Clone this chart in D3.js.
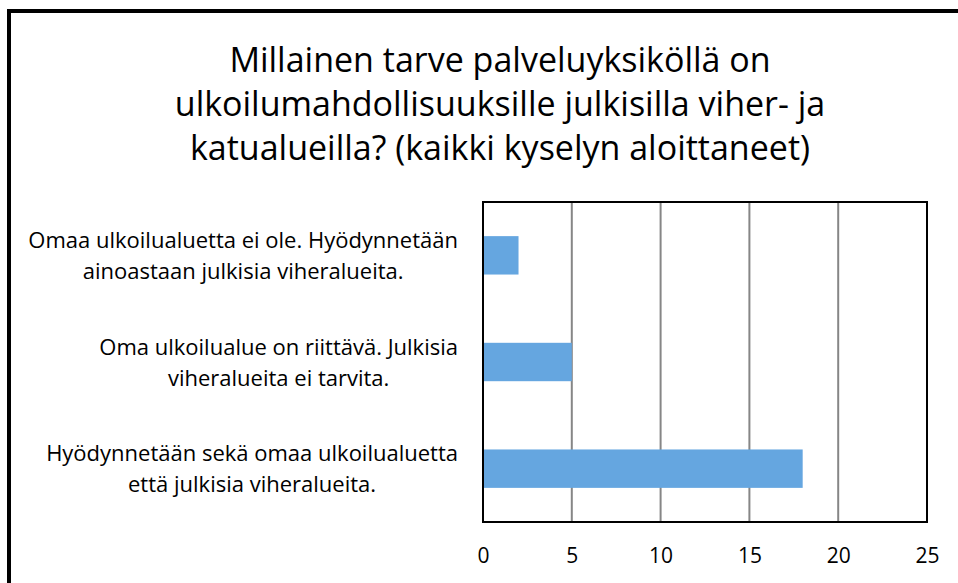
<!DOCTYPE html>
<html>
<head>
<meta charset="utf-8">
<script src="https://cdn.jsdelivr.net/npm/d3@7"></script>
<style>
  html, body { margin: 0; padding: 0; background: #fff; }
  svg { display: block; }
  text { font-family: "Open Sans", Lato, sans-serif; fill: #000; }
</style>
</head>
<body>
<svg id="chart" width="958" height="583"></svg>
<script>
// ---- data ----
const titleLines = [
  "Millainen tarve palveluyksiköllä on",
  "ulkoilumahdollisuuksille julkisilla viher- ja",
  "katualueilla? (kaikki kyselyn aloittaneet)"
];
const categories = [
  ["Omaa ulkoilualuetta ei ole. Hyödynnetään", "ainoastaan julkisia viheralueita."],
  ["Oma ulkoilualue on riittävä. Julkisia", "viheralueita ei tarvita."],
  ["Hyödynnetään sekä omaa ulkoilualuetta", "että julkisia viheralueita."]
];
const values = [2, 5, 18];
const xTicks = [0, 5, 10, 15, 20, 25];

// ---- layout ----
const plot = { left: 483, right: 927, top: 202, bottom: 522 };
const svg = d3.select("#chart");

// outer frame (extends beyond right/bottom edge)
svg.append("rect")
  .attr("x", 9).attr("y", 11)
  .attr("width", 1000).attr("height", 1000)
  .attr("fill", "none").attr("stroke", "#000").attr("stroke-width", 4);

// title
const title = svg.append("text")
  .attr("text-anchor", "middle")
  .attr("font-size", 34);
title.selectAll("tspan").data(titleLines).join("tspan")
  .attr("x", 500)
  .attr("y", (d, i) => 72 + i * 44)
  .text(d => d);

const x = d3.scaleLinear().domain([0, 25]).range([plot.left, plot.right]);
const y = d3.scaleBand().domain(d3.range(categories.length))
  .range([plot.top, plot.bottom]).paddingInner(0.64).paddingOuter(0.32);

// gridlines
svg.append("g")
  .selectAll("line").data(xTicks.filter(t => t > 0 && t < 25)).join("line")
  .attr("x1", d => x(d)).attr("x2", d => x(d))
  .attr("y1", plot.top).attr("y2", plot.bottom)
  .attr("stroke", "#868686").attr("stroke-width", 2);

// bars
svg.append("g")
  .selectAll("rect").data(values).join("rect")
  .attr("x", x(0))
  .attr("y", (d, i) => y(i))
  .attr("width", d => x(d) - x(0))
  .attr("height", y.bandwidth())
  .attr("fill", "#65A6E0");

// plot frame
svg.append("rect")
  .attr("x", plot.left).attr("y", plot.top)
  .attr("width", plot.right - plot.left).attr("height", plot.bottom - plot.top)
  .attr("fill", "none").attr("stroke", "#000").attr("stroke-width", 2);

// x axis labels
const xAxis = d3.axisBottom(x).tickValues(xTicks).tickSize(0).tickPadding(0);
const gx = svg.append("g").attr("transform", `translate(0,${plot.bottom})`).call(xAxis);
gx.select(".domain").remove();
gx.selectAll("text")
  .attr("dy", null)
  .attr("y", 41)
  .attr("font-size", 21)
  .style("font-family", "'Open Sans', sans-serif")
  .attr("fill", "#000");

// category labels
const labelRight = 458;
const lineH = 31;
const lg = svg.append("g");
categories.forEach((lines, i) => {
  const t = lg.append("text").attr("text-anchor", "middle").attr("font-size", 22);
  const ts = t.selectAll("tspan").data(lines).join("tspan").text(d => d);
  const maxW = d3.max(ts.nodes(), n => n.getComputedTextLength());
  const cx = labelRight - maxW / 2;
  const mid = y(i) + y.bandwidth() / 2;
  ts.attr("x", cx)
    .attr("y", (d, j) => mid + 8 + (j - (lines.length - 1) / 2) * lineH);
});
</script>
</body>
</html>
